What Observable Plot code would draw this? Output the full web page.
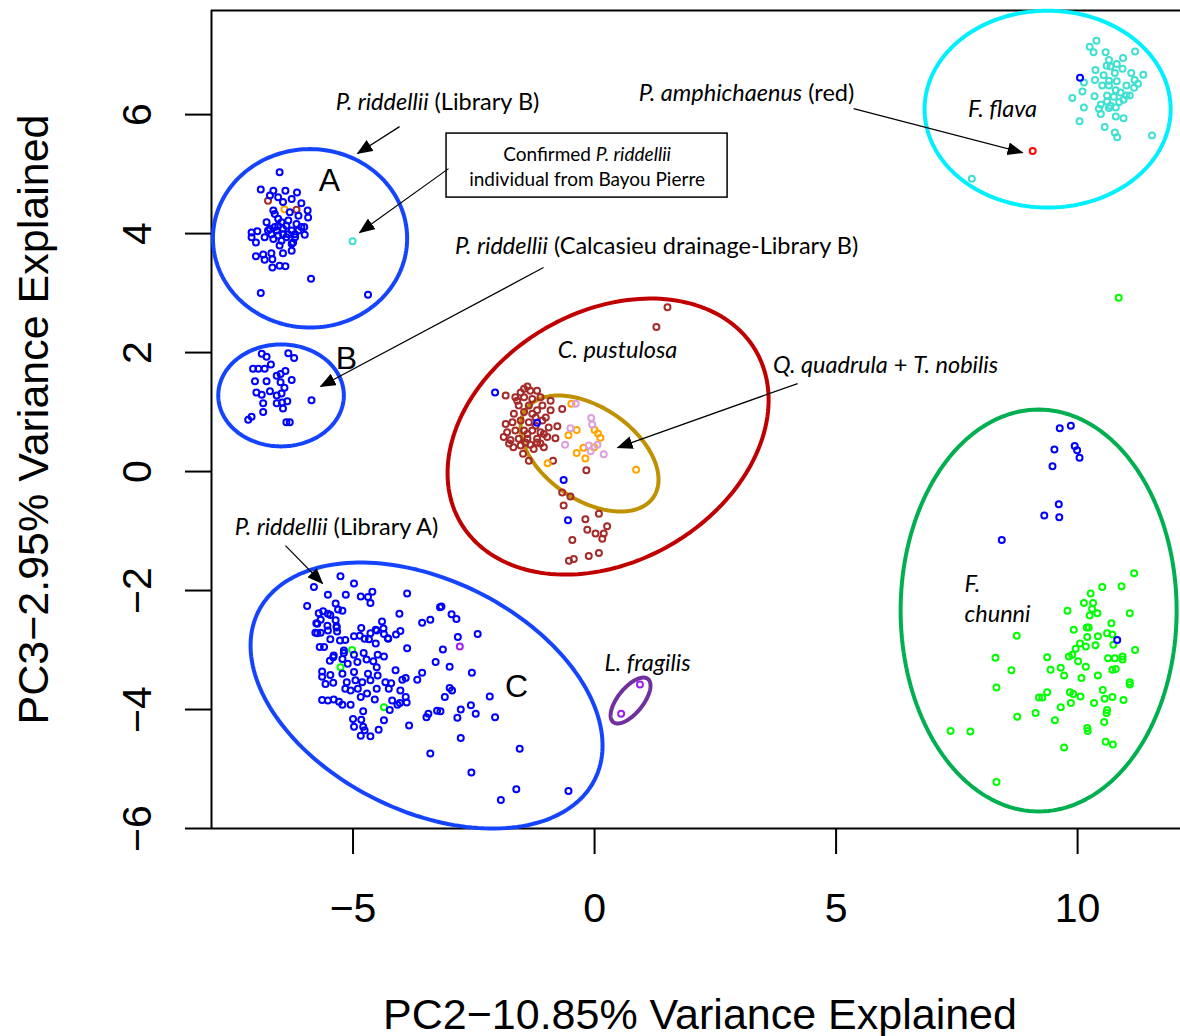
<!DOCTYPE html>
<html><head><meta charset="utf-8">
<script src="https://cdn.jsdelivr.net/npm/d3@7"></script>
<script src="https://cdn.jsdelivr.net/npm/@observablehq/plot@0.6"></script>
<style>body{margin:0;background:#fff;} svg{display:block}</style>
</head><body><div id="chart"></div>
<script>
const xTicks = [-5, 0, 5, 10];
const yTicks = [-6, -4, -2, 0, 2, 4, 6];
const xTitle = "PC2\u221210.85% Variance Explained";
const yTitle = "PC3\u22122.95% Variance Explained";
const xDomain = [-7.93, 12.13];
const yDomain = [-6, 7.75];

const ptsBlue = [
[-6.52,5.03],[-6.91,4.74],[-6.65,4.72],[-6.40,4.72],[-6.16,4.69],[-6.72,4.64],[-6.55,4.61],[-6.27,4.58],[-6.07,4.51],[-6.45,4.53],[-5.94,4.39],[-6.65,4.39],[-6.31,4.36],[-5.93,4.27],[-6.13,4.30],[-6.79,4.19],[-6.55,4.25],[-6.62,4.11],[-6.17,4.16],[-6.07,4.11],[-6.45,4.08],[-6.27,4.05],[-7.10,4.02],[-6.98,4.04],[-6.83,3.94],[-6.69,3.99],[-6.55,3.97],[-6.38,3.94],[-6.20,3.94],[-6.00,3.98],[-7.10,3.94],[-7.01,3.85],[-6.48,3.88],[-6.24,3.85],[-6.52,3.80],[-6.27,3.71],[-6.45,3.67],[-6.69,3.67],[-6.86,3.65],[-7.01,3.62],[-6.83,3.56],[-6.67,3.57],[-6.67,3.43],[-6.52,3.46],[-6.40,3.45],[-5.87,3.24],[-6.91,3.00],[-4.69,2.97],
[-6.62,4.33],[-6.48,4.19],[-6.34,4.22],[-6.72,4.08],[-6.58,4.05],[-6.38,4.13],[-6.65,3.91],[-6.34,3.99],[-6.13,4.05],[-6.55,4.13],[-6.27,3.83],[-6.45,3.99],[-6.76,4.05],[-6.20,3.99],[-6.01,4.11],
[-6.89,1.98],[-6.79,1.93],[-6.34,1.99],[-6.22,1.91],[-6.70,1.80],[-7.07,1.73],[-6.96,1.73],[-6.83,1.73],[-6.40,1.69],[-6.50,1.64],[-6.58,1.61],[-6.27,1.54],[-7.03,1.52],[-6.79,1.52],[-6.50,1.50],[-6.42,1.41],[-7.00,1.33],[-6.89,1.29],[-6.72,1.35],[-6.58,1.28],[-6.48,1.31],[-5.86,1.20],[-6.86,1.15],[-6.58,1.15],[-6.47,1.16],[-6.36,1.18],[-6.45,1.06],[-6.86,1.00],[-7.10,0.92],[-7.17,0.87],[-6.38,0.83],[-6.31,0.83],
[-2.06,1.33],[-1.19,0.82],[-0.64,-0.14],[-0.55,-0.82],
[9.63,0.73],[9.86,0.77],[9.52,0.37],[9.94,0.43],[9.99,0.36],[10.04,0.23],[9.48,0.09],[9.61,-0.55],[9.31,-0.74],[9.62,-0.77],[8.43,-1.15],[10.82,-2.83],
[10.05,6.62],
[-5.26,-1.76],[-4.98,-1.88],[-5.81,-1.94],[-5.52,-2.07],[-5.15,-2.07],[-4.84,-2.10],[-4.69,-2.11],[-4.60,-2.02],[-4.64,-2.21],[-3.88,-2.05],[-5.95,-2.26],[-5.36,-2.22],[-5.31,-2.32],[-5.22,-2.34],[-5.71,-2.38],[-5.62,-2.35],[-5.52,-2.39],[-5.47,-2.41],[-5.76,-2.55],[-5.67,-2.49],[-5.36,-2.50],[-5.53,-2.59],[-5.34,-2.60],[-5.78,-2.71],[-5.67,-2.71],[-5.52,-2.67],[-5.33,-2.69],[-5.47,-2.82],[-5.27,-2.84],[-5.16,-2.83],[-4.98,-2.77],[-4.83,-2.63],[-4.86,-2.76],[-4.76,-2.81],[-4.64,-2.72],[-4.53,-2.66],[-4.40,-2.52],[-4.37,-2.64],[-4.27,-2.81],[-4.53,-2.89],[-4.67,-2.82],[-4.11,-2.74],[-4.02,-2.68],[-4.04,-2.39],[-3.57,-2.54],[-3.40,-2.49],[-3.20,-2.28],[-3.88,-2.97],[-3.29,-3.20],[-5.69,-2.95],[-5.60,-2.95],[-5.41,-3.12],[-5.19,-3.01],
[-5.74,-2.56],[-5.34,-2.62],[-5.74,-2.72],[-4.36,-2.73],[-4.28,-2.80],[-4.51,-2.67],[-5.40,-3.09],[-5.19,-3.05],[-4.98,-3.08],[-4.78,-3.05],[-4.49,-3.08],[-4.36,-3.11],[-5.48,-3.18],[-5.22,-3.15],[-5.11,-3.23],[-4.91,-3.20],[-4.72,-3.16],[-4.58,-3.19],[-4.51,-3.29],[-5.64,-3.36],[-5.47,-3.42],[-5.64,-3.45],[-5.22,-3.40],[-4.98,-3.37],[-4.69,-3.40],[-4.49,-3.43],[-4.12,-3.34],[-3.57,-3.38],[-5.57,-3.57],[-5.41,-3.55],[-5.13,-3.54],[-4.95,-3.51],[-4.81,-3.54],[-4.64,-3.51],[-4.33,-3.54],[-4.21,-3.56],[-3.98,-3.50],[-3.91,-3.47],[-3.67,-3.50],[-5.16,-3.65],[-5.05,-3.68],[-4.90,-3.65],[-4.71,-3.73],[-4.51,-3.65],[-4.26,-3.65],[-4.02,-3.68],[-5.64,-3.84],[-5.52,-3.85],[-5.40,-3.83],[-5.29,-3.87],[-5.22,-3.92],[-5.05,-3.92],[-4.84,-3.79],[-4.55,-3.83],[-4.19,-3.85],[-4.03,-3.89],[-3.89,-3.88],[-4.24,-4.01],[-4.79,-4.03],[-5.00,-4.16],[-4.83,-4.17],[-4.36,-4.18],[-4.79,-4.29],[-4.98,-4.29],[-4.76,-4.35],[-4.84,-4.44],[-4.64,-4.45],[-4.47,-4.34],[-3.84,-4.27],[-3.48,-4.13],[-3.44,-4.07],[-3.26,-4.02],
[-3.17,-2.27],[-2.96,-2.40],[-2.86,-2.48],[-2.83,-2.78],[-2.42,-2.73],[-3.14,-2.99],[-3.00,-3.28],[-2.54,-3.38],[-3.00,-3.64],[-2.95,-3.68],[-3.10,-3.79],[-2.17,-3.78],[-3.91,-3.79],[-4.08,-3.92],[-3.19,-4.03],[-2.77,-4.00],[-2.56,-3.93],[-2.46,-4.07],[-2.84,-4.14],[-2.06,-4.13],[-2.77,-4.48],[-3.40,-4.74],[-1.55,-4.66],[-2.55,-5.06],[-1.62,-5.34],[-1.94,-5.52],[-0.54,-5.37]
];
const ptsBrown = [
[-6.76,4.55],[-6.17,4.40],
[1.51,2.76],[1.28,2.43],[-1.84,1.28],[-1.39,1.43],[-1.53,1.33],[-1.19,1.36],[-1.64,1.25],[-1.46,1.25],[-1.29,1.22],[-1.12,1.25],[-0.91,1.19],[-1.57,1.11],[-1.36,1.11],[-1.08,1.11],[-0.67,1.05],[-1.67,0.97],[-1.46,1.00],[-1.29,0.97],[-0.91,1.03],[-1.84,0.80],[-1.70,0.83],[-1.53,0.86],[-1.36,0.83],[-1.08,0.86],[-0.95,0.74],[-0.77,0.76],[-1.81,0.66],[-1.64,0.69],[-1.46,0.69],[-1.29,0.69],[-1.12,0.66],[-1.88,0.58],[-1.74,0.53],[-1.57,0.55],[-1.39,0.55],[-1.19,0.55],[-0.98,0.58],[-0.81,0.56],[-1.77,0.47],[-1.53,0.44],[-1.33,0.45],[-1.12,0.47],[-1.68,0.41],[-1.26,0.38],[-1.48,0.30],[-1.36,0.18],[-0.86,0.18],[-0.17,0.02],[-0.67,-0.35],[-0.50,-0.42],[-0.64,-0.57],[0.09,-0.71],[-0.19,-0.80],[0.26,-0.92],[-0.15,-0.98],[0.02,-1.04],[0.19,-1.04],[0.16,-1.13],[-0.46,-1.15],[0.09,-1.37],[-0.12,-1.42],[-0.43,-1.47],[-0.53,-1.50],
[-1.22,0.77],[-1.39,0.63],[-1.05,0.63],[-1.22,0.91],[-1.01,0.91],[-1.19,1.03],[-1.46,1.39],[-1.33,1.36],[-1.60,1.19],[-1.19,0.49],[-1.43,0.49],[-1.05,0.41]
];
const ptsOrange = [
[-6.42,4.41],[-0.48,1.14],[-0.37,0.70],[-0.54,0.61],[0.00,0.70],[0.07,0.64],[0.12,0.57],[-0.23,0.40],[-0.37,0.31],[-0.19,0.22],[-0.97,0.14],[0.86,0.03],[-0.01,0.41]
];
const ptsPlum = [
[-0.39,1.14],[-0.07,0.90],[-0.05,0.79],[-0.50,0.73],[-0.61,0.45],[-0.12,0.44],[0.06,0.45],[-0.08,0.34],[0.19,0.29]
];
const ptsPurple = [[0.94,-3.58],[0.55,-4.07],[-2.79,-2.94]];
const ptsRed = [[9.07,5.39]];
const ptsTurquoise = [
[10.39,7.24],[10.25,7.14],[10.33,7.05],[10.58,7.05],[11.19,7.06],[10.65,6.92],[10.94,6.95],[10.60,6.82],[10.81,6.85],[10.93,6.77],[10.37,6.75],[10.68,6.81],[10.77,6.70],[11.11,6.70],[11.36,6.67],[10.54,6.66],[10.13,6.54],[10.36,6.58],[10.65,6.57],[10.81,6.56],[11.18,6.58],[11.25,6.52],[10.51,6.49],[10.65,6.49],[11.01,6.49],[11.17,6.45],[10.10,6.39],[10.79,6.41],[10.89,6.37],[11.01,6.32],[9.89,6.28],[10.35,6.31],[10.61,6.32],[10.75,6.30],[11.08,6.32],[10.95,6.25],[10.61,6.22],[10.48,6.17],[10.68,6.15],[10.86,6.21],[10.13,6.12],[10.44,6.10],[10.65,6.11],[10.79,6.12],[10.48,6.01],[10.79,5.97],[10.95,5.94],[10.04,5.89],[10.56,5.79],[10.77,5.70],[10.82,5.62],[11.54,5.65],
[7.81,4.92],[-5.01,3.87]
];
const ptsGreen = [
[11.17,-1.71],[10.51,-1.94],[10.91,-1.93],[10.27,-2.05],[10.13,-2.21],[10.32,-2.21],[9.79,-2.34],[10.30,-2.31],[10.25,-2.42],[10.41,-2.38],[11.08,-2.38],[10.70,-2.55],[10.19,-2.62],[10.23,-2.62],[9.92,-2.66],[10.61,-2.72],[10.72,-2.74],[8.74,-2.76],[10.20,-2.78],[10.42,-2.77],[10.05,-2.89],[10.17,-2.94],[10.37,-2.92],[10.74,-2.91],[9.96,-2.98],[11.19,-3.00],[8.30,-3.13],[9.37,-3.12],[9.82,-3.11],[9.89,-3.08],[10.01,-3.19],[10.63,-3.14],[10.77,-3.14],[10.93,-3.11],[10.93,-3.16],[8.63,-3.34],[9.44,-3.33],[9.65,-3.30],[10.17,-3.28],[9.72,-3.43],[10.08,-3.47],[10.42,-3.43],[10.72,-3.33],[10.79,-3.32],[11.08,-3.54],[11.08,-3.58],[8.32,-3.63],[10.52,-3.67],[9.37,-3.71],[9.20,-3.80],[9.27,-3.80],[9.84,-3.71],[9.91,-3.74],[10.06,-3.78],[10.56,-3.82],[10.72,-3.79],[10.95,-3.84],[9.86,-3.89],[10.34,-3.89],[9.65,-3.96],[10.61,-4.01],[10.60,-4.06],[9.13,-4.06],[8.75,-4.12],[9.53,-4.18],[10.55,-4.21],[10.20,-4.31],[10.21,-4.36],[7.37,-4.36],[7.78,-4.37],[10.58,-4.54],[10.73,-4.59],[9.72,-4.64],[8.32,-5.22],
[10.85,2.92],
[-5.02,-3.00],[-5.26,-3.29],[-4.36,-3.96]
];

const groups = [
  {name: "F. flava", color: "#40e0d0", pts: ptsTurquoise},
  {name: "F. chunni", color: "#00ff00", pts: ptsGreen},
  {name: "C. pustulosa", color: "#a52a2a", pts: ptsBrown},
  {name: "Q. quadrula", color: "#ffa500", pts: ptsOrange},
  {name: "T. nobilis", color: "#dda0dd", pts: ptsPlum},
  {name: "L. fragilis", color: "#a020f0", pts: ptsPurple},
  {name: "P. amphichaenus", color: "#ff0000", pts: ptsRed},
  {name: "P. riddellii", color: "#0000ff", pts: ptsBlue}
];

const ellipses = [
  {id: "A", color: "#1544ff", cx: -5.89, cy: 3.92, ux: 2.01, uy: 0, vx: 0, vy: 1.50},
  {id: "B", color: "#1544ff", cx: -6.49, cy: 1.28, ux: 1.30, uy: 0, vx: 0, vy: 0.857},
  {id: "C", color: "#1544ff", cx: -3.478, cy: -3.765, ux: 3.484, uy: -1.409, vx: -1.066, vy: -1.736},
  {id: "pust", color: "#c00000", cx: 0.280, cy: 0.588, ux: 3.059, uy: 1.440, vx: 1.299, vy: -1.819},
  {id: "quad", color: "#bf9000", cx: -0.104, cy: 0.303, ux: 1.322, uy: -0.735, vx: -0.540, vy: -0.641},
  {id: "frag", color: "#7030a0", cx: 0.745, cy: -3.849, ux: 0.360, uy: 0.362, vx: 0.203, vy: -0.133},
  {id: "flava", color: "#00f0ff", cx: 9.379, cy: 6.092, ux: 2.547, uy: 0, vx: 0, vy: 1.655},
  {id: "chunni", color: "#00b050", cx: 9.193, cy: -2.336, ux: 2.857, uy: 0, vx: 0, vy: 3.378}
];

const annotations = [
  {x: -3.251, y: 6.202, text: "*P. riddellii* (Library B)"},
  {x: 1.284, y: 3.782, text: "*P. riddellii* (Calcasieu drainage-Library B)"},
  {x: 3.147, y: 6.353, text: "*P. amphichaenus* (red)"},
  {x: 8.447, y: 6.084, text: "*F. flava*"},
  {x: 0.476, y: 2.034, text: "*C. pustulosa*"},
  {x: 6.025, y: 1.782, text: "*Q. quadrula* + *T. nobilis*"},
  {x: -5.342, y: -0.941, text: "*P. riddellii* (Library A)"},
  {x: 1.097, y: -3.227, text: "*L. fragilis*"}
];
const leftAnnotations = [
  {x: 7.66, y: -1.899, text: "*F.*"},
  {x: 7.66, y: -2.403, text: "*chunni*"}
];
const boxNote = [{x1: -3.064, x2: 2.754, y1: 5.681, y2: 4.605, x: -0.155, y: 5.143,
  text: "Confirmed *P. riddellii*\nindividual from Bayou Pierre"}];
const clusterLetters = [
  {x: -5.487, y: 4.891, text: "A"},
  {x: -5.135, y: 1.899, text: "B"},
  {x: -1.615, y: -3.613, text: "C"}
];
const arrows = [
  {x1: -4.037, y1: 5.798, x2: -4.907, y2: 5.345},
  {x1: -3.023, y1: 5.092, x2: -4.865, y2: 4.017},
  {x1: -1.056, y1: 3.429, x2: -5.673, y2: 1.429},
  {x1: 5.362, y1: 6.101, x2: 8.861, y2: 5.361},
  {x1: 4.203, y1: 1.479, x2: 0.476, y2: 0.403},
  {x1: -6.398, y1: -1.244, x2: -5.631, y2: -1.882}
];

const dots = groups.flatMap(g => g.pts.map(([x, y]) => ({x, y, color: g.color, group: g.name})));
const ellPts = ellipses.flatMap(e => d3.range(0, 361, 2).map(deg => {
  const t = deg * Math.PI / 180;
  return {id: e.id, color: e.color,
    x: e.cx + e.ux * Math.cos(t) + e.vx * Math.sin(t),
    y: e.cy + e.uy * Math.cos(t) + e.vy * Math.sin(t)};
}));
const fmt = d => d < 0 ? "\u2212" + (-d) : String(d);
const annFont = "Lato, 'Open Sans', sans-serif";

const svg = Plot.plot({
  width: 1180, height: 1036,
  marginLeft: 211, marginRight: 0, marginTop: 10, marginBottom: 208,
  x: {domain: xDomain},
  y: {domain: yDomain},
  color: {type: "identity"},
  style: {fontFamily: "'Liberation Sans', Arial, sans-serif", background: "white", color: "black"},
  marks: [
    Plot.ruleX([xDomain[0]], {stroke: "black", strokeWidth: 2}),
    Plot.ruleY(yDomain, {stroke: "black", strokeWidth: 2}),
    Plot.axisX({ticks: xTicks, tickSize: 26, tickPadding: 38, fontSize: 41, tickFormat: fmt, label: null, strokeWidth: 2}),
    Plot.axisY({ticks: yTicks, tickSize: 26, tickPadding: 35, tickRotate: -90, fontSize: 41, tickFormat: fmt, label: null, strokeWidth: 2}),
    Plot.text([xTitle], {frameAnchor: "bottom", textAnchor: "middle", dx: 4, dy: 200, lineAnchor: "bottom", fontSize: 43, text: d => d}),
    Plot.text([yTitle], {frameAnchor: "left", textAnchor: "middle", dx: -164, rotate: -90, lineAnchor: "bottom", fontSize: 43, text: d => d}),
    Plot.line(ellPts, {x: "x", y: "y", z: "id", stroke: "color", strokeWidth: 4}),
    Plot.dot(dots, {x: "x", y: "y", stroke: "color", r: 3, strokeWidth: 2, fill: "none"}),
    Plot.rect(boxNote, {x1: "x1", x2: "x2", y1: "y1", y2: "y2", fill: "white", stroke: "black", strokeWidth: 1.5}),
    Plot.text(boxNote, {x: "x", y: "y", text: "text", fontSize: 19, lineHeight: 1.3, fontFamily: annFont}),
    Plot.text(annotations, {x: "x", y: "y", text: "text", fontSize: 23.5, fontFamily: annFont}),
    Plot.text(leftAnnotations, {x: "x", y: "y", text: "text", fontSize: 23.5, fontFamily: annFont, textAnchor: "start"}),
    Plot.text(clusterLetters, {x: "x", y: "y", text: "text", fontSize: 32}),
    Plot.link(arrows, {x1: "x1", y1: "y1", x2: "x2", y2: "y2", stroke: "black", strokeWidth: 1.2})
  ]
});

// italic segments marked with *...*
svg.querySelectorAll("text").forEach(t => {
  const kids = t.querySelectorAll("tspan");
  const targets = kids.length ? [...kids] : [t];
  targets.forEach(el => {
    const s = el.textContent;
    if (!s.includes("*")) return;
    el.textContent = "";
    s.split("*").forEach((part, i) => {
      if (!part) return;
      const ts = document.createElementNS("http://www.w3.org/2000/svg", "tspan");
      if (i % 2 === 1) ts.setAttribute("font-style", "italic");
      ts.textContent = part;
      el.appendChild(ts);
    });
  });
});
// filled arrowheads
const ns = "http://www.w3.org/2000/svg";
const defs = document.createElementNS(ns, "defs");
defs.innerHTML = '<marker id="tri" viewBox="0 0 16 13" refX="15" refY="6.5" markerWidth="16" markerHeight="13" markerUnits="userSpaceOnUse" orient="auto"><path d="M0,0L16,6.5L0,13z" fill="black"/></marker>';
svg.insertBefore(defs, svg.firstChild);
svg.querySelectorAll('g[aria-label="link"] path').forEach(p => p.setAttribute("marker-end", "url(#tri)"));

document.getElementById("chart").appendChild(svg);
</script></body></html>
